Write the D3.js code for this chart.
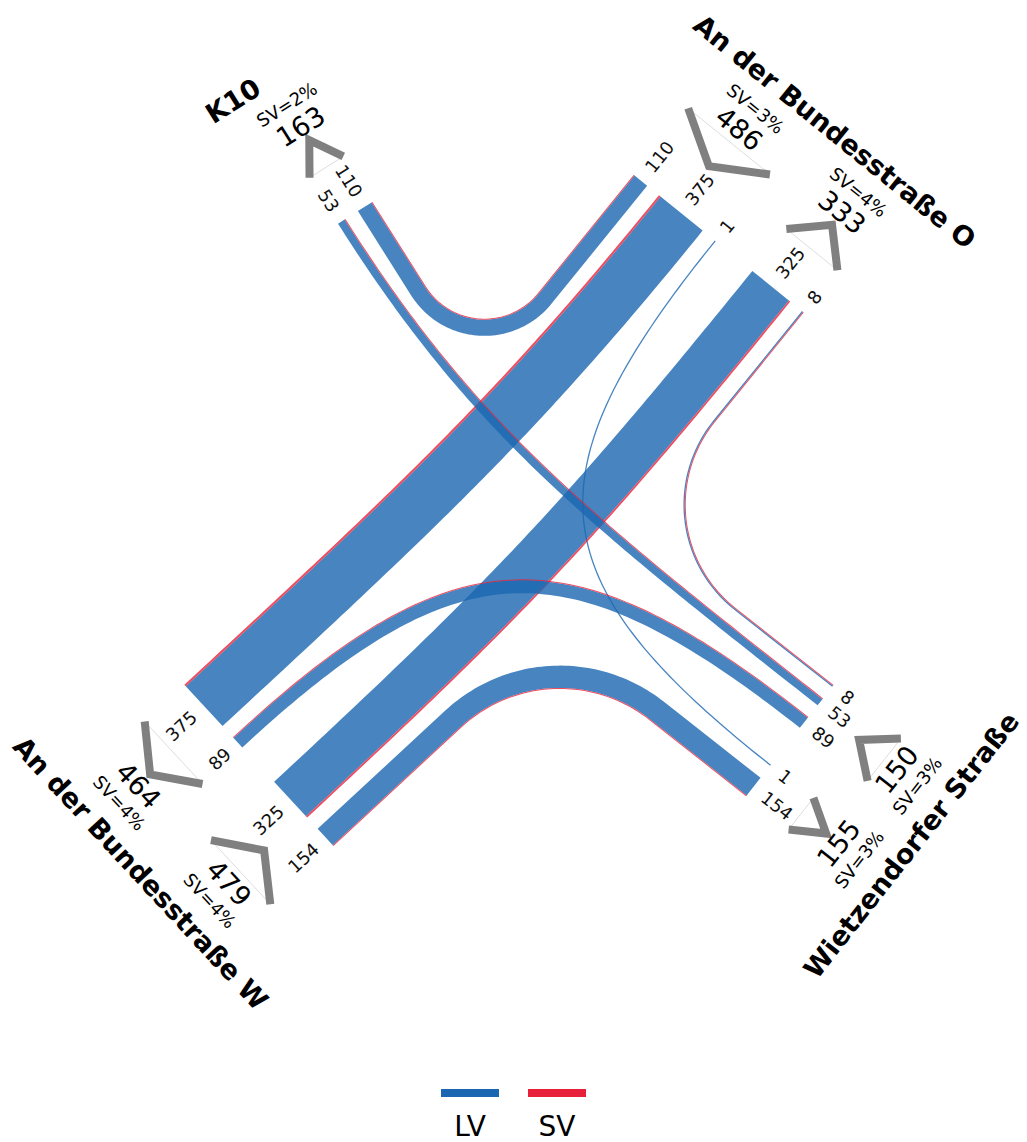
<!DOCTYPE html>
<html>
<head>
<meta charset="utf-8">
<script src="https://cdn.jsdelivr.net/npm/d3@7"></script>
<style>
  body { margin: 0; background: #fff; }
  svg { display: block; font-family: "DejaVu Sans", sans-serif; }
</style>
</head>
<body>
<div id="wrapper"></div>
<script>
// 1. Data
// arms, clockwise: 0 K10, 1 O, 2 Wietzendorfer, 3 W
const armNames = ["K10", "An der Bundesstraße O", "Wietzendorfer Straße", "An der Bundesstraße W"]
const flowFrom  = [1, 1, 1, 3, 3, 2, 2, 2]
const flowTo    = [0, 3, 2, 1, 2, 1, 0, 3]
const flowTotal = [110, 375, 1, 325, 154, 8, 53, 89]
const flowSV    = [2, 14, 0, 12, 5, 1, 1, 3]
// SV share per arm (percent): entering / leaving the junction
const svShareIn  = [null, 3, 3, 4]
const svShareOut = [2, 4, 3, 4]
const legendLabels = ["LV", "SV"]

async function drawChart() {
  // 2. Dimensions and layout
  const width = 1027
  const height = 1142
  const laneGap = 15.5
  const halfGroupGap = 23.5
  const cap = 300
  const filletRatio = 0.52
  const colors = { LV: "#1a66b0", SV: "#e8213a" }

  // arm end-line centre and outward direction (degrees, screen)
  const armGeo = [
    { x: 318.5, y: 236.0, angle: -122.3 },
    { x: 734.1, y: 256.1, angle: -51.0 },
    { x: 785.5, y: 746.1, angle: 38.2 },
    { x: 258.1, y: 764.5, angle: 137.2 },
  ]

  const arms = armGeo.map(g => {
    const a = g.angle * Math.PI / 180
    return { ...g, d: [Math.cos(a), Math.sin(a)], r: [Math.sin(a), -Math.cos(a)] }
  })
  const at = (arm, lat, out) => [
    arm.x + arm.r[0] * lat + arm.d[0] * out,
    arm.y + arm.r[1] * lat + arm.d[1] * out
  ]

  const flows = flowTotal.map((v, i) => ({
    from: flowFrom[i],
    to: flowTo[i],
    total: v,
    sv: flowSV[i],
    turn: (flowTo[i] - flowFrom[i] + 4) % 4   // 1 left, 2 straight, 3 right
  }))

  // 3. Scales
  const widthScale = d3.scaleLinear()
    .domain([0, d3.max(flowTotal)])
    .range([0, d3.max(flowTotal) * 0.15])
  const laneW = v => Math.max(widthScale(v), 1.5)

  // lane offsets across each arm
  arms.forEach((arm, ai) => {
    let cursor = halfGroupGap
    flows.filter(f => f.from === ai).sort((a, b) => a.turn - b.turn).forEach(f => {
      const w = laneW(f.total)
      f.latIn = cursor + w / 2
      cursor += w + laneGap
    })
    cursor = halfGroupGap
    flows.filter(f => f.to === ai).sort((a, b) => a.turn - b.turn).forEach(f => {
      const w = laneW(f.total)
      f.latOut = -(cursor + w / 2)
      cursor += w + laneGap
    })
  })

  // 4. Canvas
  const wrapper = d3.select("#wrapper")
    .append("svg")
      .attr("width", width)
      .attr("height", height)

  const bounds = wrapper.append("g")

  // 5. Flow ribbons
  const bez = (p, t) => {
    const m = 1 - t
    return [0, 1].map(k => m * m * m * p[0][k] + 3 * m * m * t * p[1][k] + 3 * m * t * t * p[2][k] + t * t * t * p[3][k])
  }
  const bezD = (p, t) => {
    const m = 1 - t
    return [0, 1].map(k => 3 * m * m * (p[1][k] - p[0][k]) + 6 * m * t * (p[2][k] - p[1][k]) + 3 * t * t * (p[3][k] - p[2][k]))
  }
  const rot = (h, a) => [h[0] * Math.cos(a) - h[1] * Math.sin(a), h[0] * Math.sin(a) + h[1] * Math.cos(a)]
  const sample = (p, h) => {
    const len = Math.hypot(h[0], h[1])
    return { x: p[0], y: p[1], nx: -h[1] / len, ny: h[0] / len }
  }

  const line = d3.line()

  flows.forEach(f => {
    const A = arms[f.from], B = arms[f.to]
    const p0 = at(A, f.latIn, 0)
    const p3 = at(B, f.latOut, 0)
    const u = [-A.d[0], -A.d[1]]
    const v = [-B.d[0], -B.d[1]]
    const D = [p3[0] - p0[0], p3[1] - p0[1]]
    const det = -u[0] * v[1] + v[0] * u[1]
    let s = null, t = null
    if (Math.abs(det) > 1e-6) {
      const ss = (-D[0] * v[1] + v[0] * D[1]) / det
      const tt = (u[0] * D[1] - u[1] * D[0]) / det
      if (ss > 0 && tt > 0) { s = ss; t = tt }
    }

    let samples
    if (f.turn === 3 && s !== null) {
      // right turn: straight, circular fillet, straight
      const w = B.d
      const phi = Math.atan2(u[0] * w[1] - u[1] * w[0], u[0] * w[0] + u[1] * w[1])
      const sg = Math.sign(phi)
      const tau = filletRatio * Math.min(s, t)
      const R = tau / Math.tan(Math.abs(phi) / 2)
      const q = [p0[0] + u[0] * s, p0[1] + u[1] * s]
      const t0 = [q[0] - u[0] * tau, q[1] - u[1] * tau]
      const c = [t0[0] + sg * -u[1] * R, t0[1] + sg * u[0] * R]
      samples = [sample(p0, u)]
      d3.range(0, 61).forEach(i => {
        const h = rot(u, phi * i / 60)
        samples.push(sample([c[0] - sg * R * -h[1], c[1] - sg * R * h[0]], h))
      })
      samples.push(sample(p3, w))
    } else {
      const L0 = s !== null ? Math.min(s, cap) : cap
      const L3 = t !== null ? Math.min(t, cap) : cap
      const pts = [p0, [p0[0] + u[0] * L0, p0[1] + u[1] * L0], [p3[0] + v[0] * L3, p3[1] + v[1] * L3], p3]
      samples = d3.range(0, 101).map(i => sample(bez(pts, i / 100), bezD(pts, i / 100)))
    }

    const svW = f.sv > 0 ? Math.max(widthScale(f.sv), 1) : 0
    const lvW = Math.max(widthScale(f.total - f.sv), 1.3)
    const tot = lvW + svW
    const strip = (a, b) => {
      const left = samples.map(p => [p.x + p.nx * a, p.y + p.ny * a])
      const right = samples.map(p => [p.x + p.nx * b, p.y + p.ny * b]).reverse()
      return line(left.concat(right)) + "Z"
    }

    bounds.append("path")
      .attr("d", strip(-tot / 2, -tot / 2 + lvW))
      .attr("fill", colors.LV)
      .attr("fill-opacity", 0.8)
    if (svW > 0) {
      bounds.append("path")
        .attr("d", strip(tot / 2 - svW, tot / 2))
        .attr("fill", colors.SV)
        .attr("fill-opacity", 0.8)
    }
  })

  // 6. Lane labels
  const labelGroup = bounds.append("g")
    .style("font-size", "18px")
    .attr("fill", "#111")

  const laneLabel = (arm, lat, value) => {
    const readable = Math.cos(arm.angle * Math.PI / 180) >= 0
    const p = at(arm, lat, 13)
    labelGroup.append("text")
      .attr("transform", `translate(${p[0]},${p[1]}) rotate(${readable ? arm.angle : arm.angle + 180})`)
      .attr("text-anchor", readable ? "start" : "end")
      .attr("dominant-baseline", "central")
      .text(value)
  }
  flows.forEach(f => {
    laneLabel(arms[f.from], f.latIn, f.total)
    laneLabel(arms[f.to], f.latOut, f.total)
  })

  // 7. Chevrons, totals, names
  const textAngle = arm => {
    let a = arm.angle - 90
    while (a > 90) a -= 180
    while (a <= -90) a += 180
    return a
  }

  arms.forEach((arm, ai) => {
    const rotation = textAngle(arm)
    const groups = [
      { dir: "in", list: flows.filter(f => f.from === ai), lat: f => f.latIn, share: svShareIn[ai] },
      { dir: "out", list: flows.filter(f => f.to === ai), lat: f => f.latOut, share: svShareOut[ai] },
    ]
    groups.forEach(g => {
      if (!g.list.length) return
      const lo = d3.min(g.list, f => g.lat(f) - laneW(f.total) / 2)
      const hi = d3.max(g.list, f => g.lat(f) + laneW(f.total) / 2)
      const mid = (lo + hi) / 2
      const base = g.dir === "in" ? 86 : 54
      const tip = g.dir === "in" ? 54 : 86
      const e1 = at(arm, lo, base), e2 = at(arm, hi, base), vx = at(arm, mid, tip)

      bounds.append("line")
        .attr("x1", e1[0]).attr("y1", e1[1])
        .attr("x2", e2[0]).attr("y2", e2[1])
        .attr("stroke", "#aaa")
        .attr("stroke-width", 0.4)
      bounds.append("path")
        .attr("d", line([e1, vx, e2]))
        .attr("fill", "none")
        .attr("stroke", "#808080")
        .attr("stroke-width", 8)
        .attr("stroke-linejoin", "miter")

      const total = d3.sum(g.list, f => f.total)
      const pt = at(arm, mid, 102)
      bounds.append("text")
        .attr("transform", `translate(${pt[0]},${pt[1]}) rotate(${rotation})`)
        .attr("text-anchor", "middle")
        .attr("dominant-baseline", "central")
        .style("font-size", "27px")
        .text(total)
      const ps = at(arm, mid, 128)
      bounds.append("text")
        .attr("transform", `translate(${ps[0]},${ps[1]}) rotate(${rotation})`)
        .attr("text-anchor", "middle")
        .attr("dominant-baseline", "central")
        .style("font-size", "18px")
        .text(`SV=${g.share}%`)
    })

    const pn = at(arm, 0, 160)
    bounds.append("text")
      .attr("transform", `translate(${pn[0]},${pn[1]}) rotate(${rotation})`)
      .attr("text-anchor", "middle")
      .attr("dominant-baseline", "central")
      .style("font-size", "27px")
      .style("font-weight", "bold")
      .text(armNames[ai])
  })

  // 8. Legend
  const legend = wrapper.append("g")
  const legendX = d3.scalePoint().domain(legendLabels).range([470, 557])
  legendLabels.forEach(k => {
    legend.append("line")
      .attr("x1", legendX(k) - 29).attr("x2", legendX(k) + 29)
      .attr("y1", 1093).attr("y2", 1093)
      .attr("stroke", colors[k])
      .attr("stroke-width", 8)
    legend.append("text")
      .attr("x", legendX(k))
      .attr("y", 1136)
      .attr("text-anchor", "middle")
      .style("font-size", "28px")
      .text(k)
  })
}

drawChart()
</script>
</body>
</html>
